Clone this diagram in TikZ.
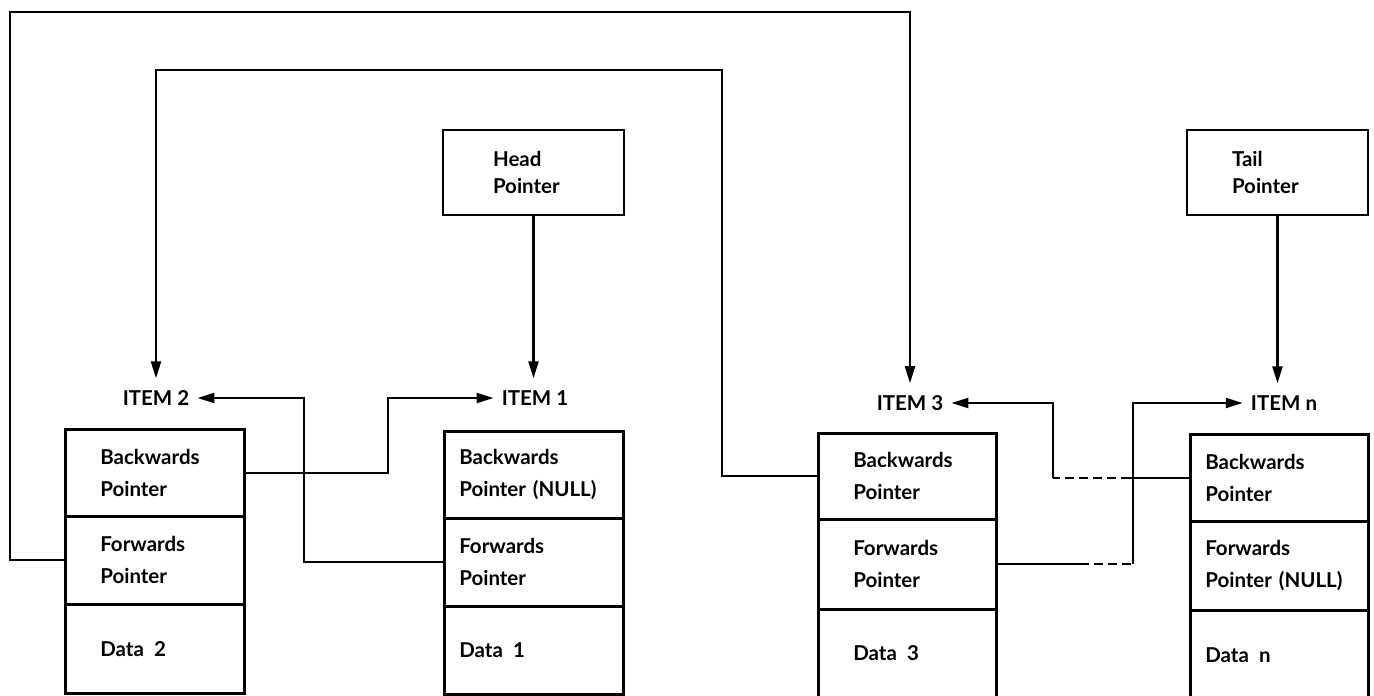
\documentclass[tikz,border=0pt]{standalone}
\usepackage{fontspec}
\setmainfont{Lato}
\usetikzlibrary{arrows.meta,calc}
\begin{document}
\begin{tikzpicture}[x=1pt,y=-1pt,
  txt/.style={font=\fontsize{20.5pt}{32pt}\selectfont\bfseries},
  cell/.style={txt,draw,line width=2.6pt,anchor=north west,align=left,inner ysep=0pt,minimum width=179pt},
  ptrbox/.style={draw,line width=2.6pt,align=left,inner ysep=0pt,minimum width=181pt,minimum height=85pt,font=\fontsize{20.5pt}{27pt}\selectfont\bfseries},
  lbl/.style={txt,inner xsep=8pt,inner ysep=12pt},
  conn/.style={line width=2.2pt},
  arr/.style={conn,-{Triangle[length=17pt,width=10pt]}},
  dsh/.style={conn,dash pattern=on 9pt off 5pt}]
\useasboundingbox (0,0) rectangle (1374,696);
% ITEM 2
\node[cell,text width=109pt,inner xsep=35pt,minimum height=87pt] (b2) at (64,428) {Backwards\\Pointer};
\node[cell,text width=109pt,inner xsep=35pt,minimum height=88pt] (f2) at (64,515) {Forwards\\Pointer};
\node[cell,text width=109pt,inner xsep=35pt,minimum height=89pt] (d2) at (64,603) {Data\enspace 2};
% ITEM 1
\node[cell,text width=149pt,inner xsep=15pt,minimum height=87pt] (b1) at (443,430) {Backwards\\Pointer (NULL)};
\node[cell,text width=149pt,inner xsep=15pt,minimum height=88pt] (f1) at (443,517) {Forwards\\Pointer};
\node[cell,text width=149pt,inner xsep=15pt,minimum height=88pt] (d1) at (443,605) {Data\enspace 1};
% ITEM 3
\node[cell,text width=108pt,inner xsep=35pt,minimum height=86pt,minimum width=178pt] (b3) at (817,432) {Backwards\\Pointer};
\node[cell,text width=108pt,inner xsep=35pt,minimum height=90pt,minimum width=178pt] (f3) at (817,518) {Forwards\\Pointer};
\node[cell,text width=108pt,inner xsep=35pt,minimum height=88pt,minimum width=178pt] (d3) at (817,608) {Data\enspace 3};
% ITEM n
\node[cell,text width=148pt,inner xsep=15pt,minimum height=87pt,minimum width=178pt] (bn) at (1189,433) {Backwards\\Pointer};
\node[cell,text width=148pt,inner xsep=15pt,minimum height=89pt,minimum width=178pt] (fn) at (1189,520) {Forwards\\Pointer (NULL)};
\node[cell,text width=148pt,inner xsep=15pt,minimum height=90pt,minimum width=178pt] (dn) at (1189,609) {Data\enspace n};
% Head / Tail
\node[ptrbox,text width=81pt,inner xsep=50pt] (head) at (533.5,172.5) {Head\\Pointer};
\node[ptrbox,text width=91pt,inner xsep=45pt] (tail) at (1277.5,172.5) {Tail\\Pointer};
% labels
\node[lbl] (l2) at (156,398) {ITEM 2};
\node[lbl] (l1) at (535,398) {ITEM 1};
\node[lbl] (l3) at (910,403) {ITEM 3};
\node[lbl] (ln) at (1284,403) {ITEM n};
% connectors
\draw[arr] (f2.west) -| (10,12) -| (l3.north);
\draw[arr] (b3.west) -| (722,70) -| (l2.north);
\draw[arr] (head.south) -- (head.south |- l1.north);
\draw[arr] (tail.south) -- (tail.south |- ln.north);
\draw[arr] (b2.east) -- ++(142,0) |- (l1.west);
\draw[arr] (f1.west) -- ++(-139,0) |- (l2.east);
\coordinate (c1) at ($(bn.west)+(-59,0)$);
\coordinate (c2) at ($(bn.west)+(-136,0)$);
\draw[conn] (bn.west) -- (c1);
\draw[dsh] (c1) -- (c2);
\draw[arr] (c2) |- (l3.east);
\coordinate (c3) at ($(f3.east)+(82,0)$);
\coordinate (c4) at ($(f3.east)+(135,0)$);
\draw[conn] (f3.east) -- (c3);
\draw[dsh] (c3) -- (c4);
\draw[arr] (c4) |- (ln.west);
\end{tikzpicture}
\end{document}
